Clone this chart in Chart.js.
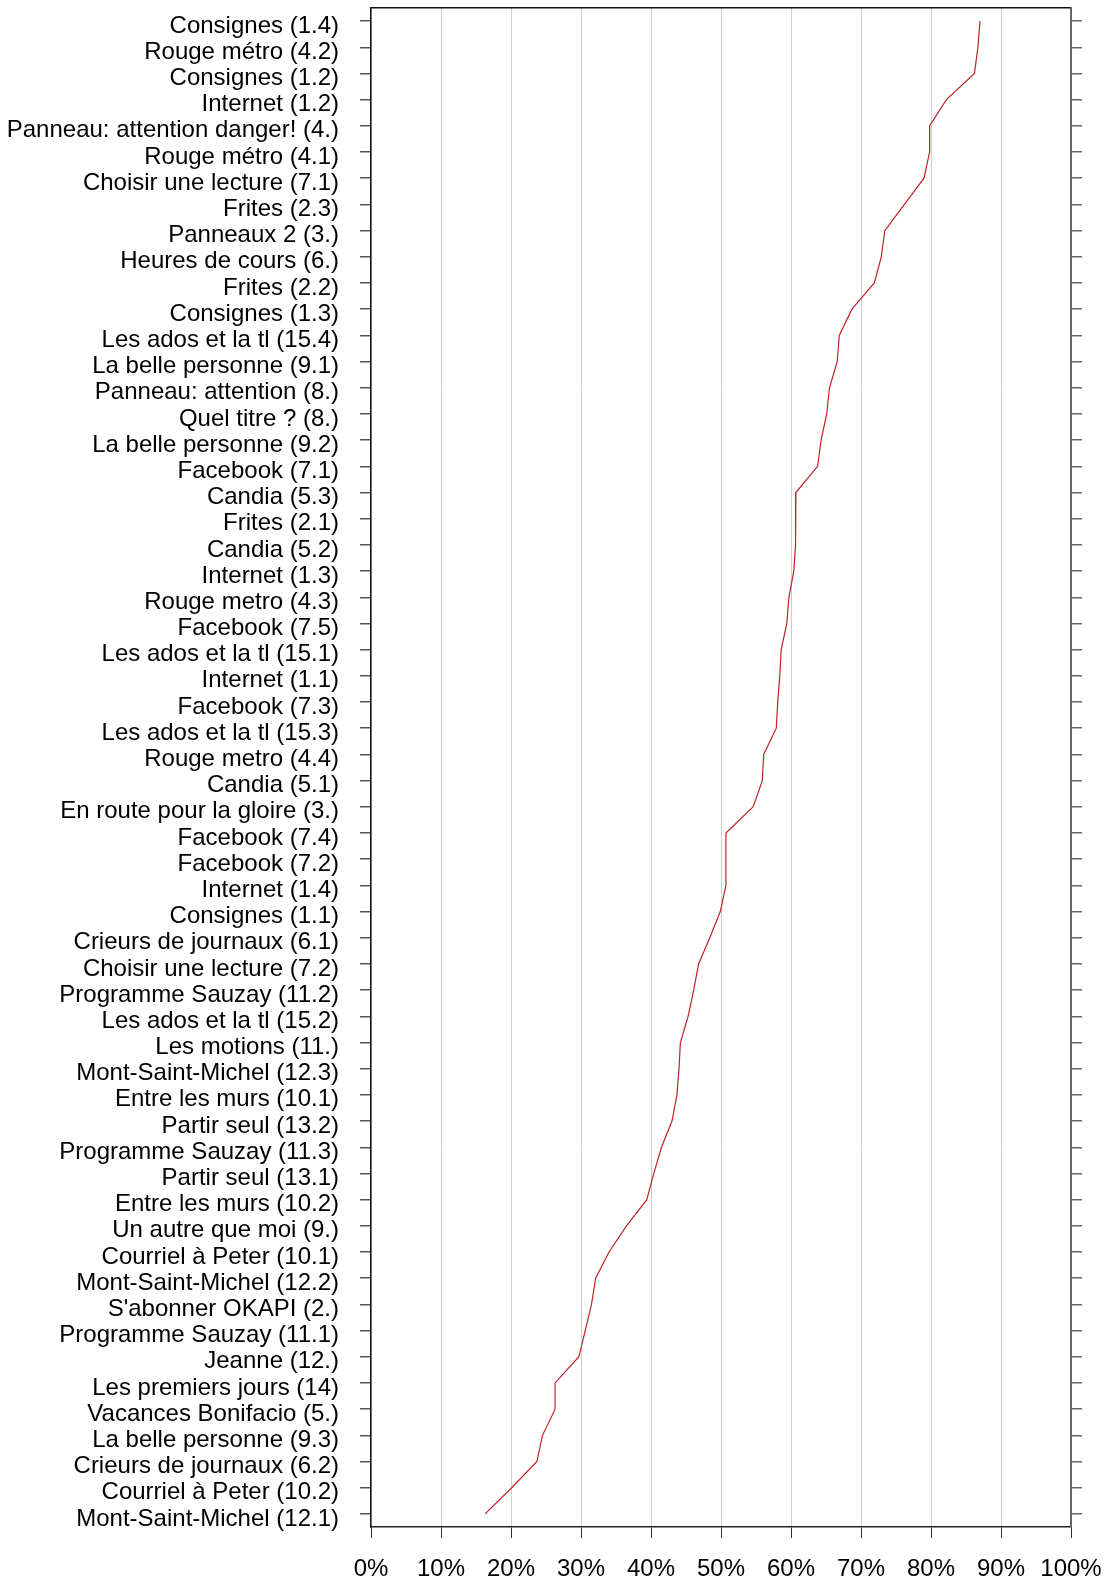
<!DOCTYPE html>
<html>
<head>
<meta charset="utf-8">
<script src="https://cdn.jsdelivr.net/npm/chart.js@4/dist/chart.umd.min.js"></script>
<style>
  html, body { margin: 0; padding: 0; background: #ffffff; }
  #wrap { width: 1105px; height: 1581px; position: relative; }
</style>
</head>
<body>
<div id="wrap"><canvas id="c" width="1105" height="1581"></canvas></div>
<script>
const categories = [
  "Consignes (1.4)", "Rouge métro (4.2)", "Consignes (1.2)", "Internet (1.2)",
  "Panneau: attention danger! (4.)", "Rouge métro (4.1)", "Choisir une lecture (7.1)",
  "Frites (2.3)", "Panneaux 2 (3.)", "Heures de cours (6.)", "Frites (2.2)",
  "Consignes (1.3)", "Les ados et la tl (15.4)", "La belle personne (9.1)",
  "Panneau: attention (8.)", "Quel titre ? (8.)", "La belle personne (9.2)",
  "Facebook (7.1)", "Candia (5.3)", "Frites (2.1)", "Candia (5.2)", "Internet (1.3)",
  "Rouge metro (4.3)", "Facebook (7.5)", "Les ados et la tl (15.1)", "Internet (1.1)",
  "Facebook (7.3)", "Les ados et la tl (15.3)", "Rouge metro (4.4)", "Candia (5.1)",
  "En route pour la gloire (3.)", "Facebook (7.4)", "Facebook (7.2)", "Internet (1.4)",
  "Consignes (1.1)", "Crieurs de journaux (6.1)", "Choisir une lecture (7.2)",
  "Programme Sauzay (11.2)", "Les ados et la tl (15.2)", "Les motions (11.)",
  "Mont-Saint-Michel (12.3)", "Entre les murs (10.1)", "Partir seul (13.2)",
  "Programme Sauzay (11.3)", "Partir seul (13.1)", "Entre les murs (10.2)",
  "Un autre que moi (9.)", "Courriel à Peter (10.1)", "Mont-Saint-Michel (12.2)",
  "S'abonner OKAPI (2.)", "Programme Sauzay (11.1)", "Jeanne (12.)",
  "Les premiers jours (14)", "Vacances Bonifacio (5.)", "La belle personne (9.3)",
  "Crieurs de journaux (6.2)", "Courriel à Peter (10.2)", "Mont-Saint-Michel (12.1)"
];

const successRate = [
  87.0, 86.7, 86.2, 82.2, 79.8, 79.8, 79.0, 76.2, 73.4, 72.9, 71.9,
  68.7, 66.9, 66.6, 65.5, 65.1, 64.3, 63.8, 60.7, 60.7, 60.6, 60.4,
  59.7, 59.4, 58.6, 58.4, 58.1, 57.9, 56.1, 55.9, 54.6, 50.7, 50.7,
  50.7, 49.9, 48.4, 46.8, 46.1, 45.3, 44.2, 44.0, 43.7, 43.0, 41.5,
  40.4, 39.4, 36.5, 34.0, 32.1, 31.5, 30.6, 29.7, 26.3, 26.3, 24.5,
  23.7, 20.1, 16.3
];

const xTicks = [0, 10, 20, 30, 40, 50, 60, 70, 80, 90, 100];

const FONT = "'Liberation Sans', Arial, Helvetica, sans-serif";

function noOverflow(s) {
  s.paddingTop = 0; s.paddingBottom = 0; s.paddingLeft = 0; s.paddingRight = 0;
}

new Chart(document.getElementById('c'), {
  type: 'line',
  data: {
    labels: categories,
    datasets: [{
      data: successRate,
      borderColor: '#be2229',
      borderWidth: 1.2,
      pointRadius: 0,
      fill: false,
      tension: 0
    }]
  },
  options: {
    indexAxis: 'y',
    responsive: false,
    animation: false,
    devicePixelRatio: 1,
    layout: { padding: 0 },
    plugins: { legend: { display: false }, tooltip: { enabled: false } },
    scales: {
      x: {
        type: 'linear',
        position: 'bottom',
        min: 0, max: 100,
        afterBuildTicks: s => { s.ticks = xTicks.map(v => ({ value: v })); },
        afterFit: s => { s.height = 54; noOverflow(s); },
        grid: {
          color: '#cccccc', lineWidth: 1,
          tickColor: '#333333', tickLength: 11, drawTicks: true
        },
        border: { display: true, color: '#222222', width: 1.5 },
        ticks: {
          callback: v => v + '%',
          color: '#000000',
          padding: 17,
          maxRotation: 0,
          autoSkip: false,
          font: { family: FONT, size: 24 }
        }
      },
      xTop: {
        type: 'linear',
        position: 'top',
        min: 0, max: 100,
        afterFit: s => { s.height = 8; noOverflow(s); },
        grid: { drawOnChartArea: false, drawTicks: false },
        border: { display: true, color: '#111111', width: 1.5 },
        ticks: { display: false }
      },
      y: {
        type: 'category',
        position: 'left',
        offset: true,
        afterFit: s => { s.width = 371; noOverflow(s); },
        grid: {
          drawOnChartArea: false,
          tickColor: '#555555', tickLength: 11, drawTicks: true, lineWidth: 1.5
        },
        border: { display: true, color: '#111111', width: 1.5 },
        ticks: {
          color: '#000000',
          padding: 21,
          labelOffset: 5,
          autoSkip: false,
          font: { family: FONT, size: 24 }
        }
      },
      yRight: {
        type: 'category',
        position: 'right',
        offset: true,
        labels: categories,
        afterFit: s => { s.width = 34; noOverflow(s); },
        grid: {
          drawOnChartArea: false,
          tickColor: '#666666', tickLength: 11, drawTicks: true, lineWidth: 1.5
        },
        border: { display: true, color: '#666666', width: 2 },
        ticks: { display: false, autoSkip: false }
      }
    }
  }
});
</script>
</body>
</html>
